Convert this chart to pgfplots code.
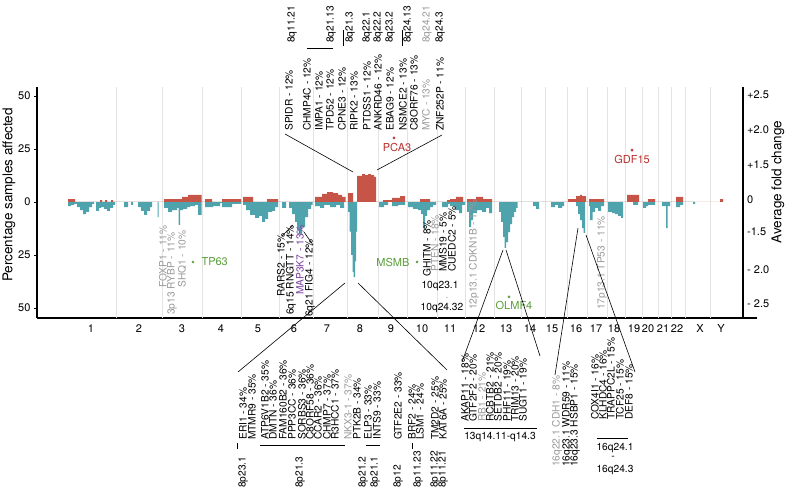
\documentclass[border=0pt]{standalone}
\usepackage{fontspec}
\setmainfont{TeX Gyre Heros}
\usepackage{pgfplots}
\pgfplotsset{compat=1.18}

\definecolor{gainred}{HTML}{C65548}
\definecolor{lossteal}{HTML}{4EA3AD}
\definecolor{labgrey}{HTML}{9A9A9A}
\definecolor{labgreen}{HTML}{5A9E3A}
\definecolor{labred}{HTML}{B8302E}
\definecolor{labpurple}{HTML}{7B3F9E}

\newcommand{\gl}{\fontsize{10.2}{12}\selectfont}

\tikzset{
  gene/.style={rotate=90, anchor=west, inner sep=0pt, font=\gl},
  lead/.style={black, line width=0.6pt},
}

\begin{document}
\begin{tikzpicture}
\path[use as bounding box] (0,0) rectangle (787pt,495pt);

\begin{axis}[
    at={(37pt,177pt)}, anchor=south west,
    scale only axis, width=720pt, height=231pt,
    xmin=37, xmax=757, ymin=-54.72, ymax=54.25,
    axis x line*=bottom, axis y line*=left,
    axis line style={black, line width=1.3pt, -},
    clip=false,
    /pgf/number format/assume math mode=true,
    ticklabel style={font=\fontsize{11}{12}\selectfont},
    xtick={91,139,182,221,258,294,327,360,391,422,450,479,506,530,552,576,596,614,634,648,663,677,700,721},
    xticklabels={1,2,3,4,5,6,7,8,9,10,11,12,13,14,15,16,17,18,19,20,21,22,X,Y},
    x tick style={draw=none},
    ytick={-50,-25,0,25,50},
    yticklabels={50,25,0,25,50},
    y tick style={black, line width=0.8pt},
    tick align=outside, major tick length=3pt,
    extra x ticks={116,162,202,241,279,313,347,378,407,437,465,494,521,545,567,587,607,625,642,658,671,685,710},
    extra x tick labels={},
    extra x tick style={grid=major, major tick length=0pt,
        major grid style={black!11, line width=0.8pt}},
]

% losses
\addplot[const plot, fill=lossteal, draw=none] coordinates {
 (68,-1.9)(71,-1.4)(74,-0.9)(77,-2.4)(80,-3.8)(83,-5.7)(86,-4.7)(89,-2.4)(92,-0.9)(94,0)
 (96,-4.2)(99,-2.8)(101,-2.4)(104,-3.3)(107,-4.2)(110,-2.8)(113,-1.4)(115,0)
 (124,-2.4)(128,0)(131,-1.4)(133,0)(138,-2.4)(141,-4.2)(144,-6.1)(147,-4.2)(150,-2.4)(152,0)
 (157.5,-7.1)(158.5,0)
 (164,-2.8)(168,-4.7)(172,-3.8)(177,-2.8)(178.5,-10.8)(180,-3.8)(183,-3.3)(187,-2.4)(190,-1.9)
 (195,-1.4)(198,-6.1)(201.5,0)
 (205,-2.4)(213,-1.9)(220,-0.5)(222,-2.4)(232,-0.9)(241,0)
 (243,-1.4)(246,-3.8)(250,-6.1)(255,-7.5)(259,-6.6)(262,-9.4)(265,-8)(268,-4.7)(272,-4.2)(275,-2.4)(278,0)
 (282,-2.8)(286,0)(289,-2.8)(292,-5.7)(295,-9.4)(297,-13.2)(299,-15.1)(302,-11.8)(305,-7.1)(308,-3.3)(311,-1.4)(312.5,0)
 (315,-1.9)(320,-2.8)(324,-1.4)(330,-2.4)(336,-1.4)(340,-2.8)(344,0)
 (348,-4.7)(349.5,-14)(351,-25)(352.5,-33)(353.5,-35.4)(355,-28)(356,-14)(357,0)
 (379,-2.4)(384,-1.4)(388,0)(392,-1.9)(398,-1.4)(405,0)
 (408,-2.4)(413,-3.3)(418,-3.8)(421,-5.7)(423,-12.5)(425,-6.6)(427,-3.8)(430,-2.4)(433,-1.4)(436,0)
 (442,-2.4)(448,-0.9)(450,-1.9)(455,-3.8)(459,-5.2)(462,-1.4)(465,0)
 (467,-4.7)(469,-11.8)(471,-8.5)(473,-5.2)(477,-3.8)(482,-4.7)(486,-2.8)(489,-5.2)(492,0)
 (499,-4.7)(501,-9.4)(503,-16.5)(504.5,-21.7)(506,-18.9)(508,-14.2)(510,-10.4)(512,-7.1)(514,-4.7)(516,-2.8)(517.5,0)
 (533,-1.9)(536,-3.3)(539,0)
 (551,-2.4)(555,-1.4)(558,-2.8)(562,-1.9)(564,0)
 (576,-1.9)(578,-5.7)(580,-8.5)(582,-12.3)(583.5,-14.6)(585,0)
 (589,-1.9)(590,-8.5)(592.5,-4.7)(595,-2.8)(598,-4.2)(601,-1.9)(604,0)
 (608,-4.7)(612,-5.2)(615,-5.7)(618,-6.6)(621,-7.5)(623,0)
 (633,-1.4)(638,0)
 (643,-2.8)(646,-1.9)(648,-1.4)(655,0)
 (662,-1.9)(666,-12.3)(667.5,-1.9)(670,0)
 (676,-2.4)(680,-1.4)(683,0)
 (693,-0.9)(695,0)
} \closedcycle;

% gains
\addplot[const plot, fill=gainred, draw=none] coordinates {
 (68,1.4)(75,0)(100,0.9)(102,0)(105,0.9)(107,0)(111,0.9)(113,0)
 (164,1.4)(182,2.4)(188,3.3)(201.5,0)
 (205,1.4)(212,0)(222,1.4)(241,0)
 (243,2.4)(253,0)(267,1.4)(278,0)
 (315,2.4)(322,3.8)(327,4.7)(333,4.2)(338,3.3)(342,2.4)(345.5,0)
 (348,4.2)(353,0)(357,12.3)(362,13.2)(365,12.7)(368,13.2)(371,12.7)(374,11.8)(376,0)
 (383,0.9)(392,1.9)(400,2.8)(405,0)
 (420,1.4)(430,0)
 (447,0.9)(450,1.4)(456,2.4)(463,0)
 (467,1.4)(476,2.4)(483,1.4)(492,0)
 (568,1.4)(576,2.8)(580,3.3)(582,2.8)(586,0)
 (589,1.4)(604,0)
 (627,3.3)(639,0)
 (648,1.4)(655,0)
 (676,2.4)(683,0)
 (720,1.4)(723,0)
} \closedcycle;

% highlighted genes
\addplot[only marks, mark=*, mark size=1.2pt, labgreen] coordinates {(193,-28.3)(417,-28.3)(509,-44.8)};
\addplot[only marks, mark=*, mark size=1.2pt, labred] coordinates {(394,30.2)(632,24.5)};
\end{axis}

\begin{scope}[yshift=495pt, x=1pt, y=-1pt]
% right axis
\draw[black, line width=1.3pt] (743,87) -- (743,318.6);
\begin{scope}[every node/.style={anchor=west, inner sep=0pt, font=\fontsize{11}{12}\selectfont}]
\node at (747,95) {+2.5};
\node at (747,130) {+2.0};
\node at (747,165) {+1.5};
\node at (747,200) {0};
\node at (747,232) {-1.5};
\node at (747,270) {- 2.0};
\node at (747,304) {- 2.5};
\end{scope}
\node[rotate=90, font=\fontsize{13.5}{14}\selectfont] at (9,195) {Percentage samples affected};
\node[rotate=90, font=\fontsize{13.5}{14}\selectfont] at (778,182) {Average fold change};

% 8q gain, genes above
\draw[lead] (353,172) -- (285,134);
\draw[lead] (377,170) -- (442,135);
\node[gene] at (289,131) {SPIDR - 12\%};
\node[gene] at (307,131) {CHMP4C - 12\%};
\node[gene] at (319,131) {IMPA1 - 12\%};
\node[gene] at (330,131) {TPD52 - 12\%};
\node[gene] at (342,131) {CPNE3 - 12\%};
\node[gene] at (354,131) {RIPK2 - 13\%};
\node[gene] at (367,131) {PTDSS1 - 12\%};
\node[gene] at (378,131) {ANKRD46 - 12\%};
\node[gene] at (390,131) {EBAG9 - 12\%};
\node[gene] at (403,131) {NSMCE2 - 13\%};
\node[gene] at (414,131) {C8ORF76 - 13\%};
\node[gene, labgrey] at (426,131) {MYC - 13\%};
\node[gene] at (440,131) {ZNF252P - 11\%};
\node[gene] at (292,43) {8q11.21};
\draw[lead] (307,48) -- (333,48);
\node[gene] at (331,43) {8q21.13};
\draw[lead] (343,30) -- (343,46);
\node[gene] at (350,43) {8q21.3};
\node[gene] at (367,43) {8q22.1};
\node[gene] at (378,43) {8q22.2};
\node[gene] at (390,43) {8q23.2};
\draw[lead] (402,30) -- (402,46);
\node[gene] at (408,43) {8q24.13};
\node[gene, labgrey] at (427,43) {8q24.21};
\node[gene] at (440,43) {8q24.3};

% chr3 and chr6
\node[gene, labgrey] at (163,288) {FOXP1 - 11\%};
\node[gene, labgrey] at (172,315) {3p13 RYBP - 11\%};
\node[gene, labgrey] at (182,288) {SHQ1 - 10\%};
\draw[lead] (293,225) -- (282,236);
\draw[lead] (304,232) -- (313,245);
\node[gene] at (281,297) {RARS2 - 15\%};
\node[gene] at (291,315) {6q15 RNGTT - 14\%};
\node[gene, labpurple] at (300,295) {MAP3K7 - 13\%};
\node[gene] at (310,317) {6q21 FIG4 - 12\%};

% chr10, 12, 17
\node[gene] at (427,277) {GHITM - 8\%};
\node[gene, labgrey] at (435,272) {PTEN - 18\%};
\node[gene] at (443,272) {MMS19 - 5\%};
\node[gene] at (452,272) {CUEDC2 - 5\%};
\node[font=\gl] at (440,286) {10q23.1};
\node[font=\gl, labgrey, inner sep=0pt] at (447,298) {.};
\node[font=\gl] at (442,308) {10q24.32};
\node[gene, labgrey] at (474,310) {12p13.1 CDKN1B - 17\%};
\node[gene, labgrey] at (602,310) {17p13.1 TP53 - 11\%};

% coloured genes
\node[font=\fontsize{11}{12}\selectfont, labgreen, anchor=west] at (198,262) {TP63};
\node[font=\fontsize{11}{12}\selectfont, labgreen, anchor=east] at (413,262) {MSMB};
\node[font=\fontsize{11}{12}\selectfont, labgreen] at (514,305) {OLMF4};
\node[font=\fontsize{11}{12}\selectfont, labred] at (397,147) {PCA3};
\node[font=\fontsize{11}{12}\selectfont, labred] at (632,159) {GDF15};

% 8p loss, genes below
\draw[lead] (345,283) -- (238,372);
\draw[lead] (358,283) -- (447,370);
\node[gene] at (243,440) {ERI1 - 34\%};
\node[gene] at (252,440) {MTMR9 - 35\%};
\node[gene] at (265,440) {ATP6V1B2 - 35\%};
\node[gene] at (273,440) {DMTN - 36\%};
\node[gene] at (283,440) {FAM160B2 - 36\%};
\node[gene] at (292,440) {PPP3CC - 36\%};
\node[gene] at (302,440) {SORBS3 - 36\%};
\node[gene] at (310,440) {C8ORF58 - 36\%};
\node[gene] at (318,440) {CCAR2 - 36\%};
\node[gene] at (327,440) {CHMP7 - 37\%};
\node[gene] at (335,440) {R3HCC1 - 37\%};
\node[gene, labgrey] at (348,440) {NKX3-1 - 37\%};
\node[gene] at (357,440) {PTK2B - 34\%};
\node[gene] at (368,440) {ELP3 - 33\%};
\node[gene] at (377,440) {INTS9 - 33\%};
\node[gene] at (398,440) {GTF2E2 - 33\%};
\node[gene] at (412,440) {BRF2 - 24\%};
\node[gene] at (420,440) {LSM1 - 24\%};
\node[gene] at (435,440) {TM2D2 - 25\%};
\node[gene] at (443,440) {KAT6A - 25\%};
\draw[lead] (237,443) -- (237,449);
\draw[lead] (260,445) -- (345,445);
\draw[lead] (366,445) -- (380,445);
\draw[lead] (412,443) -- (412,449);
\node[gene] at (243,488) {8p23.1};
\node[gene] at (300,488) {8p21.3};
\node[gene] at (363,488) {8p21.2};
\node[gene] at (375,488) {8p21.1};
\node[gene] at (398,488) {8p12};
\node[gene] at (418,488) {8p11.23};
\node[gene] at (435,488) {8p11.22};
\node[gene] at (443,488) {8p11.21};

% 13q loss
\draw[lead] (503,250) -- (462,362);
\draw[lead] (506,250) -- (540,356);
\node[gene] at (465,422) {AKAP11 - 18\%};
\node[gene] at (473,422) {GTF2F2 - 20\%};
\node[gene, labgrey] at (482,422) {RB1 - 21\%};
\node[gene] at (490,422) {RCBTB2 - 21\%};
\node[gene] at (498,422) {SETDB2 - 20\%};
\node[gene] at (507,422) {PHF11 - 19\%};
\node[gene] at (515,422) {TRIM13 - 20\%};
\node[gene] at (523,422) {SUGT1 - 19\%};
\draw[lead] (464,428) -- (537,428);
\node[font=\gl] at (500,437) {13q14.11-q14.3};

% 16q loss
\draw[lead] (578,228) -- (555,375);
\draw[lead] (586,235) -- (635,372);
\node[gene, labgrey] at (557,467) {16q22.1 CDH1 - 8\%};
\node[gene] at (567,467) {16q23.1 WDR59 - 11\%};
\node[gene] at (575,467) {16q23.3 HSBP1 - 15\%};
\node[gene] at (595,420) {COX4I1 - 16\%};
\node[gene] at (603,420) {KLHDC4 - 16\%};
\node[gene] at (611,420) {TRAPPC2L - 15\%};
\node[gene] at (620,420) {TCF25 - 15\%};
\node[gene] at (629,420) {DEF8 - 15\%};
\draw[lead] (597,438) -- (628,438);
\node[font=\gl] at (615,448) {16q24.1};
\node[font=\gl] at (613,458) {-};
\node[font=\gl] at (615,470) {16q24.3};
\end{scope}
\end{tikzpicture}
\end{document}
